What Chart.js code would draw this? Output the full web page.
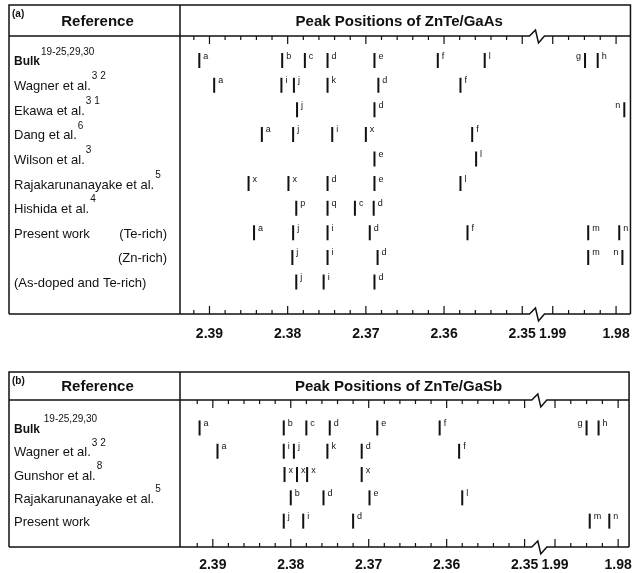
<!DOCTYPE html>
<html>
<head>
<meta charset="utf-8">
<script src="https://cdn.jsdelivr.net/npm/chart.js@4.4.1/dist/chart.umd.min.js"></script>
<style>
  html, body { margin: 0; padding: 0; background: #fff; }
  #wrap { position: relative; width: 642px; height: 573px; }
  .panel { position: absolute; left: 0; width: 642px; }
  #pa { top: 0; height: 345px; }
  #pb { top: 345px; height: 228px; }
</style>
</head>
<body>
<div id="wrap">
  <div class="panel" id="pa"><canvas id="chartA"></canvas></div>
  <div class="panel" id="pb"><canvas id="chartB"></canvas></div>
</div>
<script>
const FONT = '"Liberation Sans", Arial, Helvetica, sans-serif';
const INK = '#111';

// x axis (eV), broken between 2.35 and 1.99
const TICK_LABELS = ['2.39', '2.38', '2.37', '2.36', '2.35', '1.99', '1.98'];
const MAJOR_E = [2.39, 2.38, 2.37, 2.36, 2.35, 1.99, 1.98];
const MINOR_E = [2.394, 2.392, 2.388, 2.386, 2.384, 2.382, 2.378, 2.376, 2.374, 2.372,
  2.368, 2.366, 2.364, 2.362, 2.358, 2.356, 2.354, 2.352, 1.9875, 1.985, 1.9825];

// (a) ZnTe/GaAs
const ROWS_A = ['Bulk', 'Wagner et al.', 'Ekawa et al.', 'Dang et al.', 'Wilson et al.',
  'Rajakarunanayake et al.', 'Hishida et al.', 'Present work', '', '(As-doped and Te-rich)'];
const REFS_A = ['19-25,29,30', '3 2', '3 1', '6', '3', '5', '4', '', '', ''];
const NOTES_A = ['', '', '', '', '', '', '', '(Te-rich)', '(Zn-rich)', ''];

const A_BULK = [2.3913, 2.3807, 2.3778, 2.3749, 2.3689, 2.3608, 2.3548, 1.9849, 1.9829];
const A_BULK_TAG = ['a', 'b', 'c', 'd', 'e', 'f', 'l', 'g', 'h'];
const A_WAGNER = [2.3894, 2.3808, 2.3792, 2.3749, 2.3684, 2.3579];
const A_WAGNER_TAG = ['a', 'i', 'j', 'k', 'd', 'f'];
const A_EKAWA = [2.3788, 2.3689, 1.9787];
const A_EKAWA_TAG = ['j', 'd', 'n'];
const A_DANG = [2.3833, 2.3793, 2.3743, 2.3700, 2.3564];
const A_DANG_TAG = ['a', 'j', 'i', 'x', 'f'];
const A_WILSON = [2.3689, 2.3559];
const A_WILSON_TAG = ['e', 'l'];
const A_RAJAK = [2.3850, 2.3799, 2.3749, 2.3689, 2.3579];
const A_RAJAK_TAG = ['x', 'x', 'd', 'e', 'l'];
const A_HISHIDA = [2.3789, 2.3749, 2.3714, 2.3690];
const A_HISHIDA_TAG = ['p', 'q', 'c', 'd'];
const A_TE = [2.3843, 2.3793, 2.3749, 2.3695, 2.3570, 1.9844, 1.9795];
const A_TE_TAG = ['a', 'j', 'i', 'd', 'f', 'm', 'n'];
const A_ZN = [2.3794, 2.3749, 2.3685, 1.9844, 1.9790];
const A_ZN_TAG = ['j', 'i', 'd', 'm', 'n'];
const A_AS = [2.3789, 2.3754, 2.3689];
const A_AS_TAG = ['j', 'i', 'd'];

// (b) ZnTe/GaSb
const ROWS_B = ['Bulk', 'Wagner et al.', 'Gunshor et al.', 'Rajakarunanayake et al.', 'Present work'];
const REFS_B = [' 19-25,29,30', '3 2', '8', '5', ''];
const NOTES_B = ['', '', '', '', ''];

const B_BULK = [2.3917, 2.3809, 2.3780, 2.3750, 2.3689, 2.3609, 1.9850, 1.9831];
const B_BULK_TAG = ['a', 'b', 'c', 'd', 'e', 'f', 'g', 'h'];
const B_WAGNER = [2.3894, 2.3809, 2.3796, 2.3753, 2.3709, 2.3584];
const B_WAGNER_TAG = ['a', 'i', 'j', 'k', 'd', 'f'];
const B_GUNSHOR = [2.3808, 2.3792, 2.3779, 2.3709];
const B_GUNSHOR_TAG = ['x', 'x', 'x', 'x'];
const B_RAJAK = [2.3800, 2.3758, 2.3699, 2.3580];
const B_RAJAK_TAG = ['b', 'd', 'e', 'l'];
const B_PRESENT = [2.3809, 2.3784, 2.3720, 1.9845, 1.9814];
const B_PRESENT_TAG = ['j', 'i', 'd', 'm', 'n'];

// energy -> axis position: 2.39 -> 0, 2.35 -> 4, break, 1.99 -> 4.39, 1.98 -> 5.2
function pos(e) {
  return e > 2.2 ? (2.39 - e) * 100 : 4.39 + (1.99 - e) * 81;
}
const BREAK_U = 4.195;

function framePlugin(cfg) {
  return {
    id: 'frame',
    beforeDraw(chart) {
      const ctx = chart.ctx;
      ctx.save();
      ctx.fillStyle = '#fff';
      ctx.fillRect(0, 0, chart.width, chart.height);
      ctx.restore();
    },
    afterDraw(chart) {
      const { ctx, chartArea: ca } = chart;
      const x = chart.scales.x, y = chart.scales.y;
      const L = 9, R = ca.right, T = cfg.boxTop, H = ca.top, B = ca.bottom;
      ctx.save();
      ctx.strokeStyle = INK;
      ctx.lineWidth = 1.5;

      // box and column divider
      ctx.beginPath();
      ctx.moveTo(L, B); ctx.lineTo(L, T); ctx.lineTo(R, T); ctx.lineTo(R, B);
      ctx.moveTo(ca.left, T); ctx.lineTo(ca.left, B);
      ctx.stroke();

      // header line / bottom line with axis break
      const bx = x.getPixelForValue(BREAK_U);
      [H, B].forEach(yy => {
        ctx.beginPath();
        ctx.moveTo(L, yy); ctx.lineTo(bx - 8, yy);
        ctx.lineTo(bx - 2, yy - 6); ctx.lineTo(bx + 1, yy + 7); ctx.lineTo(bx + 7, yy);
        ctx.lineTo(R, yy);
        ctx.stroke();
      });

      // tick marks top and bottom
      ctx.lineWidth = 1.2;
      ctx.beginPath();
      const tick = (e, len) => {
        const px = x.getPixelForValue(pos(e));
        if (px < ca.left + 3 || px > R - 3) return;
        ctx.moveTo(px, H); ctx.lineTo(px, H + len);
        ctx.moveTo(px, B); ctx.lineTo(px, B - len);
      };
      MAJOR_E.forEach(e => tick(e, 8));
      MINOR_E.forEach(e => tick(e, 4));
      ctx.stroke();

      // header
      ctx.fillStyle = INK;
      ctx.textBaseline = 'middle';
      ctx.textAlign = 'left';
      ctx.font = 'bold 10px ' + FONT;
      ctx.fillText(cfg.tag, 12, T + 9);
      ctx.font = 'bold 15px ' + FONT;
      ctx.textAlign = 'center';
      ctx.fillText('Reference', (L + ca.left) / 2 + 3, (T + H) / 2 + 1);
      ctx.fillText(cfg.title, (ca.left + R) / 2 - 6, (T + H) / 2 + 1);

      // row labels
      cfg.labels.forEach((lab, i) => {
        const py = y.getPixelForValue(i + 1) + 1.5;
        ctx.textAlign = 'left';
        ctx.font = (i === 0 ? 'bold 12px ' : '13px ') + FONT;
        if (lab) ctx.fillText(lab, 14, py);
        const w = lab ? ctx.measureText(lab).width : 0;
        if (cfg.refs[i]) {
          ctx.font = '10px ' + FONT;
          ctx.fillText(cfg.refs[i], 14 + w + 1, py - 10);
        }
        if (cfg.notes[i]) {
          ctx.font = '13px ' + FONT;
          ctx.textAlign = 'right';
          ctx.fillText(cfg.notes[i], 167, py);
        }
      });

      // peak letters
      ctx.font = '9px ' + FONT;
      ctx.textBaseline = 'top';
      chart.data.datasets.forEach((ds, i) => {
        chart.getDatasetMeta(i).data.forEach((pt, j) => {
          const t = ds.tags[j];
          const left = t === 'g' || pt.x > R - 9;
          ctx.textAlign = left ? 'right' : 'left';
          ctx.fillText(t, pt.x + (left ? -4 : 4), pt.y - 9);
        });
      });
      ctx.restore();
    }
  };
}

function makePanel(canvasId, cfg) {
  const datasets = cfg.rows.map((peaks, i) => ({
    label: cfg.labels[i] || cfg.notes[i],
    data: peaks.map(e => ({ x: pos(e), y: i + 1 })),
    tags: cfg.tags[i],
    showLine: false,
    pointStyle: 'line',
    rotation: 90,
    radius: 7.5,
    hoverRadius: 7.5,
    borderWidth: 2,
    borderColor: INK,
    backgroundColor: INK
  }));

  return new Chart(document.getElementById(canvasId), {
    type: 'scatter',
    data: { datasets },
    options: {
      responsive: true,
      maintainAspectRatio: false,
      animation: false,
      events: [],
      layout: { padding: { left: 180, right: 4, top: cfg.headTop, bottom: 0 } },
      plugins: { legend: { display: false }, tooltip: { enabled: false } },
      scales: {
        x: {
          type: 'linear',
          min: cfg.xMin,
          max: cfg.xMax,
          afterBuildTicks: s => { s.ticks = MAJOR_E.map(e => ({ value: pos(e) })); },
          afterFit: s => { s.height = cfg.axisH; },
          grid: { display: false, drawTicks: false },
          border: { display: false },
          ticks: {
            autoSkip: false,
            maxRotation: 0,
            padding: cfg.labelPad,
            color: INK,
            font: { family: FONT, size: 14, weight: 'bold' },
            callback: (v, i) => TICK_LABELS[i]
          }
        },
        y: { type: 'linear', reverse: true, min: cfg.yMin, max: cfg.yMax, display: false }
      }
    },
    plugins: [framePlugin(cfg)]
  });
}

makePanel('chartA', {
  tag: '(a)', title: 'Peak Positions of ZnTe/GaAs',
  labels: ROWS_A, refs: REFS_A, notes: NOTES_A,
  rows: [A_BULK, A_WAGNER, A_EKAWA, A_DANG, A_WILSON, A_RAJAK, A_HISHIDA, A_TE, A_ZN, A_AS],
  tags: [A_BULK_TAG, A_WAGNER_TAG, A_EKAWA_TAG, A_DANG_TAG, A_WILSON_TAG, A_RAJAK_TAG,
    A_HISHIDA_TAG, A_TE_TAG, A_ZN_TAG, A_AS_TAG],
  boxTop: 5, headTop: 36, axisH: 31, labelPad: 12,
  xMin: -0.377, xMax: 5.384, yMin: 0, yMax: 11.3
});

makePanel('chartB', {
  tag: '(b)', title: 'Peak Positions of ZnTe/GaSb',
  labels: ROWS_B, refs: REFS_B, notes: NOTES_B,
  rows: [B_BULK, B_WAGNER, B_GUNSHOR, B_RAJAK, B_PRESENT],
  tags: [B_BULK_TAG, B_WAGNER_TAG, B_GUNSHOR_TAG, B_RAJAK_TAG, B_PRESENT_TAG],
  boxTop: 27, headTop: 55, axisH: 26, labelPad: 10,
  xMin: -0.421, xMax: 5.34, yMin: -0.2, yMax: 6.11
});
</script>
</body>
</html>
